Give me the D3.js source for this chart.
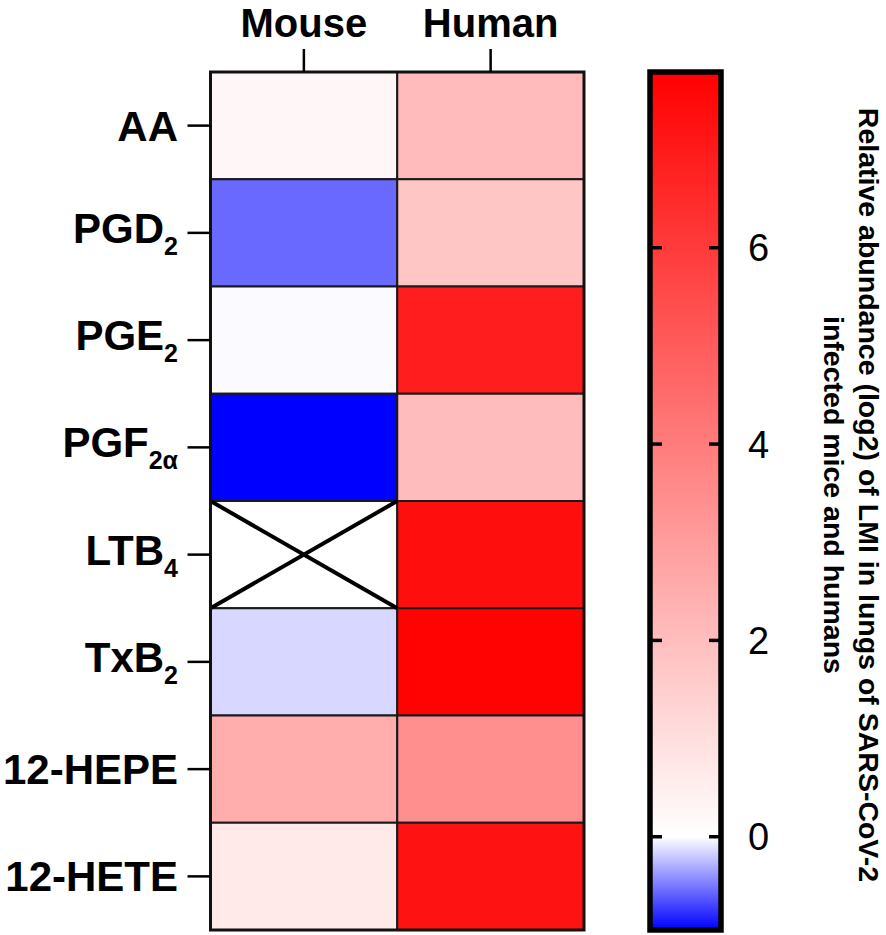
<!DOCTYPE html>
<html>
<head>
<meta charset="utf-8">
<script src="https://cdn.jsdelivr.net/npm/d3@7"></script>
<style>
  body { margin: 0; background: #fff; }
  text { font-family: "Liberation Sans", Arial, sans-serif; }
</style>
</head>
<body>
<script>
var lipids = ["AA", "PGD", "PGE", "PGF", "LTB", "TxB", "12-HEPE", "12-HETE"],
    lipidSubs = ["", "2", "2", "2\u03b1", "4", "2", "", ""],
    species = ["Mouse", "Human"],
    mouseVals = [0.24, -0.56, -0.02, -1.0, null, -0.15, 2.5, 0.67],
    humanVals = [2.07, 1.74, 6.9, 2.05, 7.35, 7.7, 3.42, 7.23],
    barDomain = [-0.95, 7.79],
    barTicks = [0, 2, 4, 6],
    barTitle = ["Relative abundance (log2) of LMI in lungs of SARS-CoV-2", "infected mice and humans"];

var width = 886,
    height = 935;

var svg = d3.select("body")
    .append("svg")
    .attr("width", width)
    .attr("height", height);

var x = d3.scaleBand().domain(species).range([210.5, 584]),
    y = d3.scaleBand().domain(lipids).range([72, 930]),
    color = d3.scaleLinear()
        .domain([barDomain[0], 0, barDomain[1]])
        .range(["#0000ff", "#ffffff", "#ff0000"])
        .clamp(true);

var cells = [];
lipids.forEach(function(l, i) {
    cells.push({ lipid: l, sp: "Mouse", v: mouseVals[i] });
    cells.push({ lipid: l, sp: "Human", v: humanVals[i] });
});

var heat = svg.append("g");

heat.selectAll("rect.cell")
    .data(cells)
    .enter()
    .append("rect")
    .attr("class", "cell")
    .attr("x", function(d) { return x(d.sp); })
    .attr("y", function(d) { return y(d.lipid); })
    .attr("width", x.bandwidth())
    .attr("height", y.bandwidth())
    .attr("fill", function(d) { return d.v == null ? "#fff" : color(d.v); })
    .attr("stroke", "#1a1a1a")
    .attr("stroke-width", 2);

// missing value: cross
cells.filter(function(d) { return d.v == null; }).forEach(function(d) {
    var x0 = x(d.sp), x1 = x0 + x.bandwidth(),
        y0 = y(d.lipid), y1 = y0 + y.bandwidth();
    heat.append("path")
        .attr("d", "M" + x0 + "," + y0 + "L" + x1 + "," + y1 + "M" + x1 + "," + y0 + "L" + x0 + "," + y1)
        .attr("stroke", "#000")
        .attr("stroke-width", 4)
        .attr("fill", "none");
});

heat.append("rect")
    .attr("x", x.range()[0])
    .attr("y", y.range()[0])
    .attr("width", x.range()[1] - x.range()[0])
    .attr("height", y.range()[1] - y.range()[0])
    .attr("fill", "none")
    .attr("stroke", "#111")
    .attr("stroke-width", 3);

var xAxis = svg.append("g")
    .attr("transform", "translate(0," + y.range()[0] + ")")
    .call(d3.axisTop(x).tickSize(23).tickFormat(""));
var yAxis = svg.append("g")
    .attr("transform", "translate(" + x.range()[0] + ",0)")
    .call(d3.axisLeft(y).tickSize(23).tickFormat(""));
[xAxis, yAxis].forEach(function(a) {
    a.select(".domain").remove();
    a.selectAll(".tick line").attr("stroke", "#000").attr("stroke-width", 2.5);
});

svg.selectAll("text.colLabel")
    .data(species)
    .enter()
    .append("text")
    .attr("class", "colLabel")
    .attr("x", function(d) { return x(d) + x.bandwidth() / 2; })
    .attr("y", 36.5)
    .attr("text-anchor", "middle")
    .style("font-size", "40px")
    .style("font-weight", "bold")
    .text(function(d) { return d; });

var rowLabel = svg.selectAll("text.rowLabel")
    .data(lipids)
    .enter()
    .append("text")
    .attr("class", "rowLabel")
    .attr("x", 178)
    .attr("y", function(d, i) { return y(d) + y.bandwidth() / 2 + (lipidSubs[i] ? 10 : 15); })
    .attr("text-anchor", "end")
    .style("font-size", "42px")
    .style("font-weight", "bold");
rowLabel.append("tspan").text(function(d) { return d; });
rowLabel.append("tspan")
    .attr("dy", 12)
    .style("font-size", "25px")
    .text(function(d, i) { return lipidSubs[i]; });

// colour bar
var barX = 650, barW = 71;
var cy = d3.scaleLinear().domain(barDomain).range([930, 72]);

var grad = svg.append("defs")
    .append("linearGradient")
    .attr("id", "barGrad")
    .attr("x1", 0).attr("y1", 1).attr("x2", 0).attr("y2", 0);
[barDomain[0], 0, barDomain[1]].forEach(function(v) {
    grad.append("stop")
        .attr("offset", (v - barDomain[0]) / (barDomain[1] - barDomain[0]))
        .attr("stop-color", color(v));
});

svg.append("rect")
    .attr("x", barX)
    .attr("y", cy.range()[1])
    .attr("width", barW)
    .attr("height", cy.range()[0] - cy.range()[1])
    .attr("fill", "url(#barGrad)")
    .attr("stroke", "#000")
    .attr("stroke-width", 5.5);

var bt = svg.selectAll("g.barTick")
    .data(barTicks)
    .enter()
    .append("g")
    .attr("class", "barTick")
    .attr("transform", function(d) { return "translate(0," + cy(d) + ")"; });
bt.append("line")
    .attr("x1", barX).attr("x2", barX + 12)
    .attr("stroke", "#000").attr("stroke-width", 3.5);
bt.append("line")
    .attr("x1", barX + barW - 12).attr("x2", barX + barW)
    .attr("stroke", "#000").attr("stroke-width", 3.5);
bt.append("text")
    .attr("x", 748)
    .attr("y", 13.5)
    .style("font-size", "38px")
    .text(function(d) { return d; });

svg.selectAll("text.barTitle")
    .data(barTitle)
    .enter()
    .append("text")
    .attr("class", "barTitle")
    .attr("transform", function(d, i) { return "translate(" + (859 - i * 35) + ",495) rotate(90)"; })
    .attr("text-anchor", "middle")
    .style("font-size", "28.5px")
    .style("font-weight", "bold")
    .text(function(d) { return d; });
</script>
</body>
</html>
